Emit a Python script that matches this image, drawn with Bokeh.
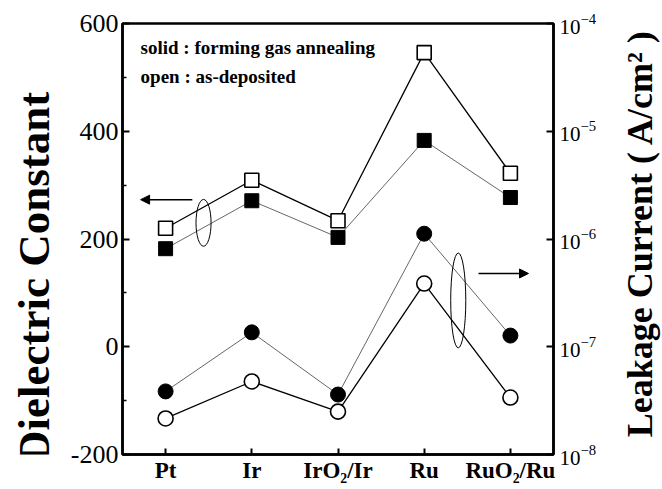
import math
from bokeh.plotting import figure
from bokeh.layouts import row
from bokeh.models import (Range1d, LinearAxis, LogAxis, LogScale, FixedTicker,
                          Arrow, NormalHead, Label)
from bokeh.core.properties import value
from bokeh.embed import file_html
from bokeh.resources import INLINE

categories = ["Pt", "Ir", "IrO\u2082/Ir", "Ru", "RuO\u2082/Ru"]
xpos = [1, 2, 3, 4, 5]
k_open = [220, 309, 234, 546, 322]
k_solid = [182, 271, 203, 383, 277]
leak_solid = [3.85e-8, 1.36e-7, 3.6e-8, 1.12e-6, 1.27e-7]
leak_open = [2.16e-8, 4.76e-8, 2.5e-8, 3.86e-7, 3.38e-8]
k_ticks = [-200, 0, 200, 400, 600]
k_minor = [-100, 100, 300, 500]
leak_ticks = [1e-8, 1e-7, 1e-6, 1e-5, 1e-4]

SERIF = "Liberation Serif"
H = 489
LEFT_W, RIGHT_W = 60, 45
MAIN_W = 662 - LEFT_W - RIGHT_W

p = figure(width=MAIN_W, height=H, output_backend="svg", toolbar_location=None,
           x_range=Range1d(0.5, 5.5), y_range=Range1d(-200, 600),
           min_border_left=122 - LEFT_W, min_border_right=MAIN_W + LEFT_W - 553,
           min_border_top=23, min_border_bottom=35,
           x_axis_location=None, y_axis_location=None)
p.extra_y_ranges = {"leak": Range1d(1e-8, 1e-4)}
p.extra_y_scales = {"leak": LogScale()}
p.grid.visible = False
p.outline_line_color = "black"
p.outline_line_width = 2.5
p.background_fill_color = "white"
p.border_fill_color = "white"


def style(ax):
    ax.axis_line_color = "black"
    ax.axis_line_width = 2.5
    ax.major_tick_line_color = "black"
    ax.minor_tick_line_color = "black"
    ax.major_label_text_color = "black"
    ax.major_tick_in = 7
    ax.major_tick_out = 0
    ax.major_tick_line_width = 2
    ax.minor_tick_in = 4
    ax.minor_tick_out = 0
    ax.minor_tick_line_width = 1.5
    ax.major_label_text_font = SERIF


# x axis
xa = LinearAxis(ticker=FixedTicker(ticks=xpos),
                major_label_overrides={x: c for x, c in zip(xpos, categories)})
style(xa)
xa.minor_tick_line_color = None
xa.major_tick_in = 6
xa.major_label_text_font_style = "bold"
xa.major_label_text_font_size = "23px"
xa.major_label_standoff = 3
p.add_layout(xa, "below")

# left axis
ya = LinearAxis(ticker=FixedTicker(ticks=k_ticks, minor_ticks=k_minor),
                major_label_overrides={t: str(t) for t in k_ticks})
style(ya)
ya.major_label_text_font_size = "26px"
ya.major_label_standoff = 4
p.add_layout(ya, "left")

# right axis (log)
ra = LogAxis(y_range_name="leak", ticker=FixedTicker(ticks=leak_ticks))
style(ra)
ra.minor_tick_line_color = None
ra.major_label_text_font_size = "21px"
ra.major_label_standoff = 6
p.add_layout(ra, "right")

# dielectric constant series
p.line(xpos, k_open, line_color="black", line_width=1.3)
p.line(xpos, k_solid, line_color="#555555", line_width=0.9)
p.scatter(xpos, k_open, marker="square", size=14, fill_color="white",
          line_color="black", line_width=1.6)
p.scatter(xpos, k_solid, marker="square", size=14, fill_color="black",
          line_color="black")

# leakage current series
p.line(xpos, leak_open, line_color="black", line_width=1.3, y_range_name="leak")
p.line(xpos, leak_solid, line_color="#555555", line_width=0.9, y_range_name="leak")
p.scatter(xpos, leak_open, marker="circle", size=15, fill_color="white",
          line_color="black", line_width=1.6, y_range_name="leak")
p.scatter(xpos, leak_solid, marker="circle", size=15, fill_color="black",
          line_color="black", y_range_name="leak")

# annotations: ellipses and arrows
p.ellipse(x=[1.44, 4.395], y=[230, 86], width=[0.175, 0.175], height=[87, 176],
          fill_color=None, line_color="black", line_width=1)
p.add_layout(Arrow(end=NormalHead(size=9, fill_color="black", line_color="black"),
                   x_start=1.31, y_start=273, x_end=0.71, y_end=273,
                   line_color="black", line_width=1.5))
p.add_layout(Arrow(end=NormalHead(size=9, fill_color="black", line_color="black"),
                   x_start=4.63, y_start=136, x_end=5.21, y_end=136,
                   line_color="black", line_width=1.5))

p.text(x=[0.71, 0.71], y=[555, 502],
       text=["solid : forming gas annealing", "open : as-deposited"],
       text_font=value(SERIF), text_font_style="bold", text_font_size="19px",
       text_baseline="middle", text_align="left", text_color="black")


def side_panel(width, text, cx, cy, size):
    q = figure(width=width, height=H, output_backend="svg", toolbar_location=None,
               x_range=Range1d(0, width), y_range=Range1d(0, H),
               min_border=0, x_axis_location=None, y_axis_location=None)
    q.grid.visible = False
    q.outline_line_color = None
    q.background_fill_color = "white"
    q.border_fill_color = "white"
    q.add_layout(Label(x=cx, y=H - cy, text=text, angle=math.pi / 2,
                       text_font=SERIF, text_font_style="bold", text_font_size=size,
                       text_align="center", text_baseline="middle",
                       text_color="black"))
    return q


left_title = side_panel(LEFT_W, "Dielectric Constant", 33, 288, "45px")
right_title = side_panel(RIGHT_W, "Leakage Current ( A/cm\u00b2 )", 22.5, 238, "36px")

layout = row(left_title, p, right_title, spacing=0)
open("out.html", "w").write(file_html(layout, INLINE))
